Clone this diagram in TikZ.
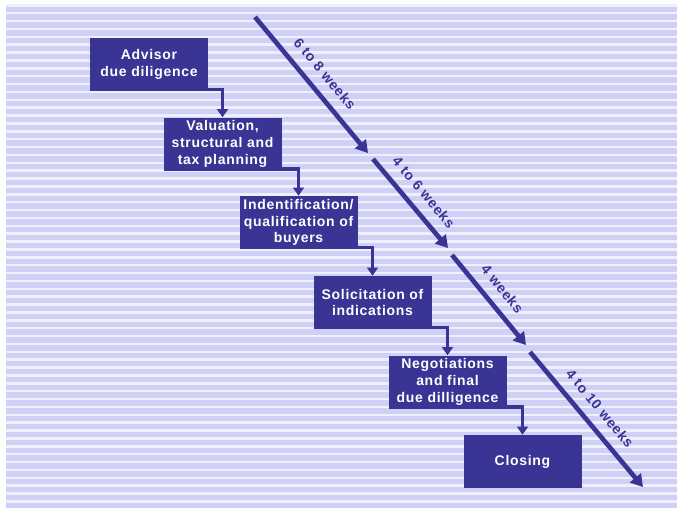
\documentclass[tikz,border=0pt]{standalone}
\usepackage{fontspec}
\setmainfont{Liberation Sans}
\newfontfamily\boxfont[LetterSpace=5]{Liberation Sans}
\usetikzlibrary{arrows.meta}
\definecolor{navy}{RGB}{58,52,148}
\definecolor{lav}{RGB}{208,208,246}
\definecolor{lavline}{RGB}{240,240,253}
\begin{document}
\begin{tikzpicture}[x=0.75pt,y=-0.75pt,
  stage/.style={fill=navy, draw=none, text=white, minimum width=88.5pt,
    minimum height=39.75pt, inner sep=0pt, align=center,
    font=\boxfont\bfseries\fontsize{10.5pt}{12.6pt}\selectfont},
  elbow/.style={draw=navy, line width=2.6pt, -{Triangle[width=8pt,length=6pt]}},
  phase/.style={draw=navy, line width=3.5pt, -{Triangle[width=10.5pt,length=9pt]}},
  dur/.style={midway, sloped, above=7.5pt, inner sep=0pt, text=navy,
    font=\boxfont\bfseries\fontsize{10.5pt}{12.6pt}\selectfont}]
\useasboundingbox (0,0) rectangle (677,512);
\fill[white] (0,0) rectangle (677,512);
\fill[lav] (6,4) rectangle (677,508);
\foreach \i in {0,...,63} \fill[lavline] (6,{4+7.875*\i}) rectangle (677,{6.5+7.875*\i});

\node[stage] (s1) at (149,64.5) {Advisor\\due diligence};
\node[stage] (s2) at (222.5,144) {Valuation,\\structural and\\tax planning};
\node[stage] (s3) at (298.5,222.5) {Indentification/\\qualification of\\buyers};
\node[stage] (s4) at (372.5,302.5) {Solicitation of\\indications};
\node[stage] (s5) at (447.5,382) {Negotiations\\and final\\due dilligence};
\node[stage] (s6) at (522.5,461.5) {Closing};

\draw[elbow] ([yshift=1.3pt]s1.south east) -| (s2.north);
\draw[elbow] ([yshift=1.3pt]s2.south east) -| (s3.north);
\draw[elbow] ([yshift=1.3pt]s3.south east) -| (s4.north);
\draw[elbow] ([yshift=1.3pt]s4.south east) -| (s5.north);
\draw[elbow] ([yshift=1.3pt]s5.south east) -| (s6.north);

\coordinate (a1) at (255,17);  \coordinate (b1) at (368,153);
\coordinate (a2) at (373,159); \coordinate (b2) at (448,248);
\coordinate (a3) at (452,255); \coordinate (b3) at (526,345);
\coordinate (a4) at (530,352); \coordinate (b4) at (643,487);

\draw[phase] (a1) -- (b1) node[dur] {6 to 8 weeks};
\draw[phase] (a2) -- (b2) node[dur] {4 to 6 weeks};
\draw[phase] (a3) -- (b3) node[dur] {4 weeks};
\draw[phase] (a4) -- (b4) node[dur] {4 to 10 weeks};
\end{tikzpicture}
\end{document}
